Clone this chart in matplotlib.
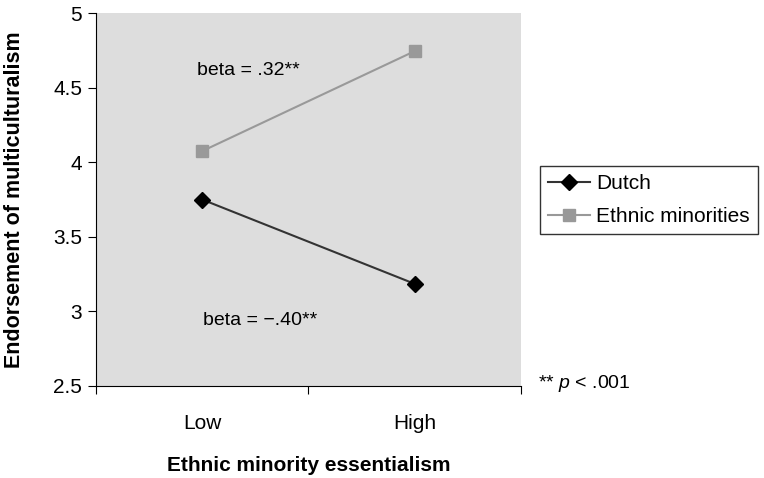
import matplotlib.pyplot as plt

plt.rcParams['font.family'] = ['Liberation Sans', 'DejaVu Sans']
plt.rcParams['mathtext.fontset'] = 'custom'
plt.rcParams['mathtext.rm'] = 'Liberation Sans'
plt.rcParams['mathtext.it'] = 'Liberation Sans:italic'

categories = ['Low', 'High']
dutch = [3.75, 3.185]
minorities = [4.075, 4.745]
y_ticks = [2.5, 3, 3.5, 4, 4.5, 5]
y_labels = ['2.5', '3', '3.5', '4', '4.5', '5']

fig = plt.figure(figsize=(7.64, 4.78), dpi=100)
ax = fig.add_axes([0.1257, 0.1925, 0.556, 0.78])
ax.set_facecolor('#dddddd')

x = [0.5, 1.5]
ax.plot(x, dutch, '-', color='#333333', lw=1.5, marker='D', ms=8.5,
        mfc='black', mec='black', label='Dutch')
ax.plot(x, minorities, '-', color='#999999', lw=1.5, marker='s', ms=8.5,
        mfc='#999999', mec='#999999', label='Ethnic minorities')

ax.set_xlim(0, 2)
ax.set_ylim(2.5, 5)
ax.set_yticks(y_ticks)
ax.set_yticklabels(y_labels)
ax.set_xticks([0, 1, 2])
ax.set_xticklabels([])
ax.set_xticks(x, minor=True)
ax.set_xticklabels(categories, minor=True)
ax.tick_params(axis='x', which='minor', length=0, pad=20, labelsize=15)
ax.tick_params(axis='x', which='major', length=6, direction='out')
ax.tick_params(axis='y', length=6, direction='out', labelsize=15, pad=4)

for s in ['top', 'right']:
    ax.spines[s].set_visible(False)

ax.set_xlabel('Ethnic minority essentialism', fontsize=15, fontweight='bold')
ax.set_ylabel('Endorsement of multiculturalism', fontsize=15.5, fontweight='bold')
ax.xaxis.set_label_coords(0.5, -0.188)
ax.yaxis.set_label_coords(-0.168, 0.5)

ax.text(0.475, 4.618, 'beta = .32**', fontsize=14, va='center')
ax.text(0.505, 2.936, 'beta = \u2212.40**', fontsize=14, va='center')

fig.text(0.704, 0.197, '** $\\mathit{p}$ < .001', fontsize=14, va='center')

leg = fig.legend(loc='upper left', bbox_to_anchor=(0.7068, 0.6527), frameon=True,
                 fancybox=False, edgecolor='black', fontsize=15, handlelength=2.0,
                 borderpad=0.4, labelspacing=0.65, handletextpad=0.3,
                 borderaxespad=0)
leg.get_frame().set_linewidth(1)

fig.savefig('out.png', dpi=100)
